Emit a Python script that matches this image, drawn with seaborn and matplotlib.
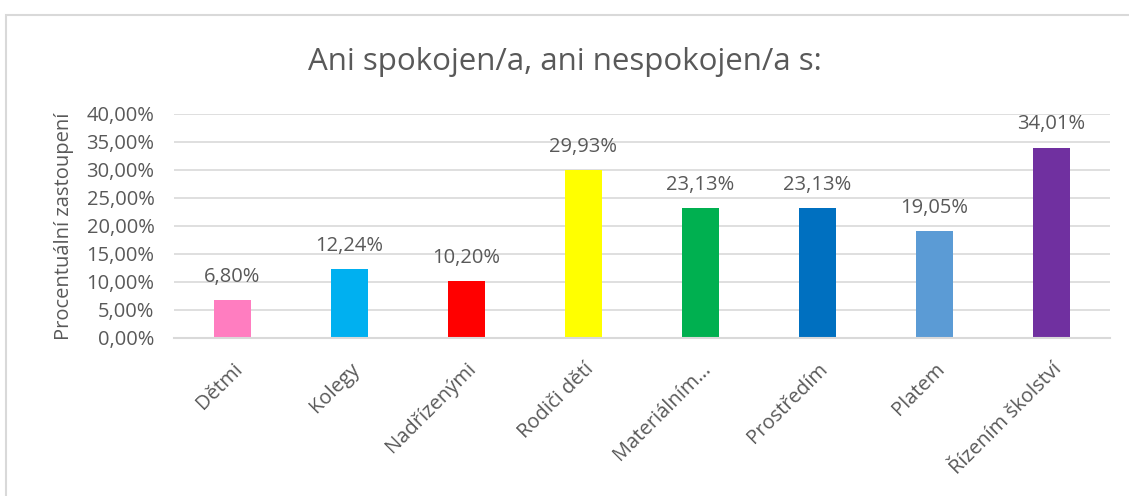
import matplotlib
matplotlib.use("Agg")
import matplotlib.pyplot as plt
import seaborn as sns
import pandas as pd
from matplotlib.patches import Rectangle
from matplotlib.ticker import FuncFormatter

categories = ["Dětmi", "Kolegy", "Nadřízenými", "Rodiči dětí", "Materiálním…",
              "Prostředím", "Platem", "Řízením školství"]
values = [6.80, 12.24, 10.20, 29.93, 23.13, 23.13, 19.05, 34.01]
colors = ["#FF7DC0", "#00B0F0", "#FF0000", "#FFFF00", "#00B050",
          "#0070C0", "#5B9BD5", "#7030A0"]
title = "Ani spokojen/a, ani nespokojen/a s:"
ylabel = "Procentuální zastoupení"

sns.set_theme(style="white")
plt.rcParams['font.family'] = ['Open Sans', 'DejaVu Sans']
txt = "#595959"

df = pd.DataFrame({"cat": categories, "val": values})

fig = plt.figure(figsize=(11.29, 4.96), dpi=100)
ax = fig.add_axes([174/1129, 1-338/496, (1110-174)/1129, (338-114)/496])

sns.barplot(data=df, x="cat", y="val", hue="cat", palette=colors,
            width=0.32, legend=False, ax=ax, saturation=1, edgecolor="none")

ax.set_ylim(0, 40)
ax.set_xlim(-0.5, len(categories) - 0.5)
ax.set_yticks(range(0, 41, 5))
ax.yaxis.set_major_formatter(FuncFormatter(lambda v, p: f"{v:.2f}".replace(".", ",") + "%"))
ax.grid(axis="y", color="#D9D9D9", linewidth=1.2)
ax.set_axisbelow(True)
for s in ["top", "right", "left"]:
    ax.spines[s].set_visible(False)
ax.spines["bottom"].set_color("#D9D9D9")
ax.spines["bottom"].set_linewidth(1.5)
ax.tick_params(axis="both", length=0, colors=txt, labelsize=14.5)
ax.tick_params(axis="y", pad=14)

ax.set_xlabel("")
ax.set_ylabel(ylabel, color=txt, fontsize=14.5, labelpad=9)
ax.set_xticks(range(len(categories)))
ax.set_xticklabels(categories, rotation=45, ha="right", va="top",
                   rotation_mode="anchor", color=txt, fontsize=14.5)
ax.tick_params(axis="x", pad=15)

for i, v in enumerate(values):
    ax.annotate(f"{v:.2f}".replace(".", ",") + "%", (i, v), xytext=(0, 9.5),
                textcoords="offset points", ha="center", va="bottom",
                color=txt, fontsize=14.5)

fig.text(0.5, 1-62/496, title, ha="center", va="center", color=txt, fontsize=22.5)

fig.patches.append(Rectangle((6/1129, -0.1), 1.2, (496-15)/496 + 0.1,
                             transform=fig.transFigure, fill=False,
                             edgecolor="#D9D9D9", linewidth=1.5))

fig.savefig("out.png", dpi=100, facecolor="white")
